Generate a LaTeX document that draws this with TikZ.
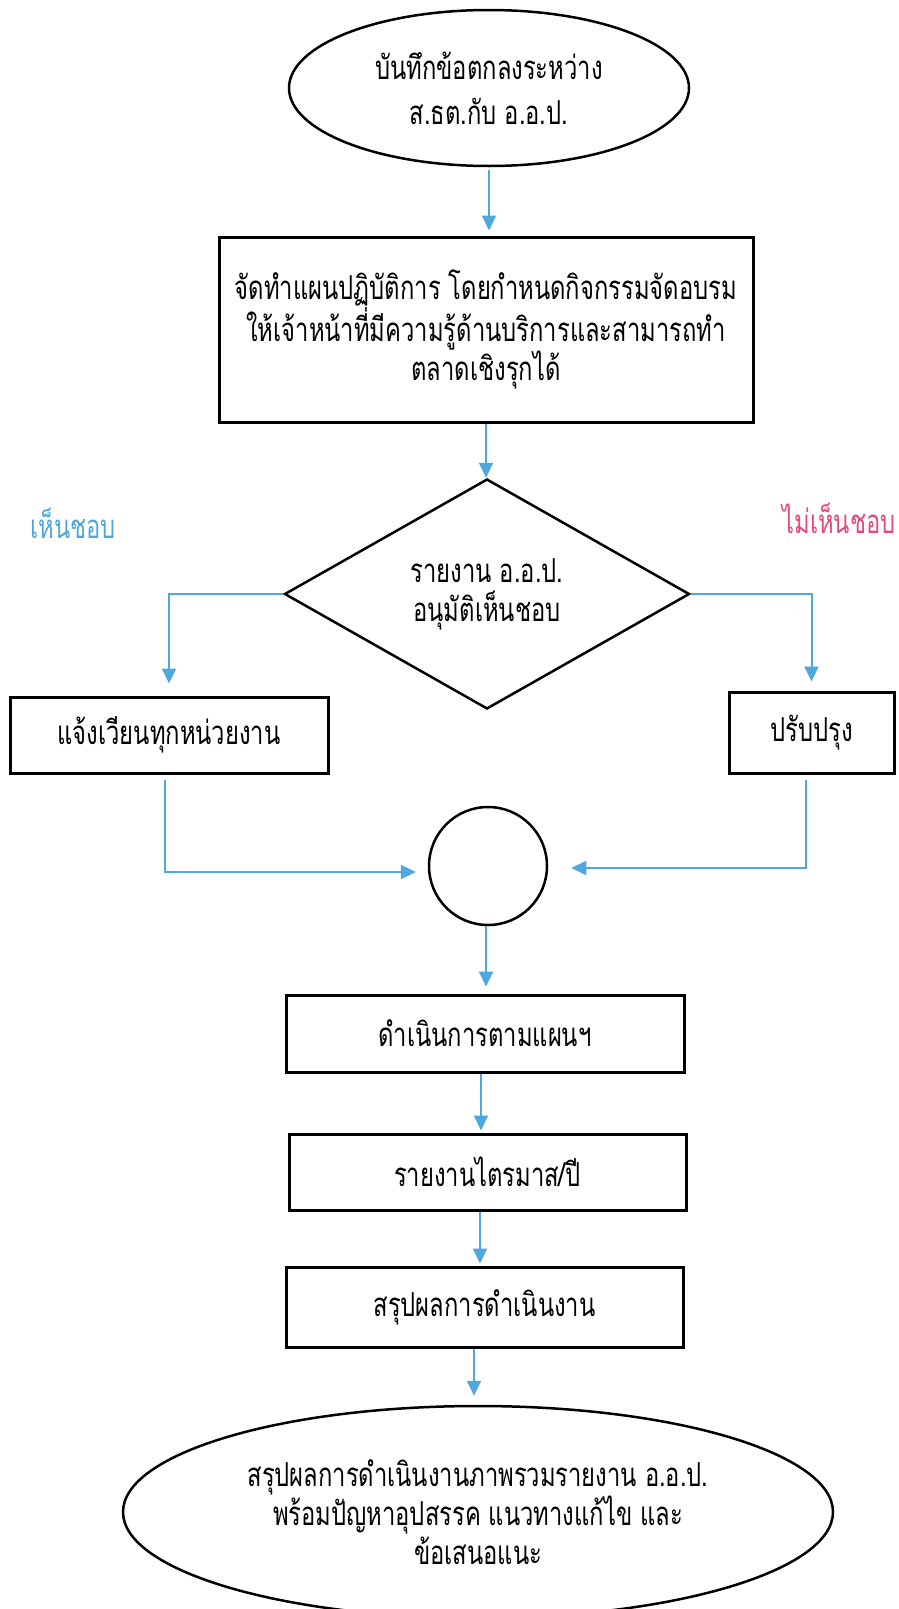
\documentclass[tikz,border=0pt]{standalone}
\usepackage{fontspec}
\newfontfamily\thaifont[Script=Thai,FakeStretch=0.72]{Loma}
\usetikzlibrary{shapes.geometric,arrows.meta}
\definecolor{flowblue}{RGB}{78,168,222}
\definecolor{flowpink}{RGB}{226,75,125}
\begin{document}
\begin{tikzpicture}[x=1pt,y=-1pt,
  every node/.style={font=\thaifont\fontsize{33}{39}\selectfont},
  box/.style={draw=black,line width=3pt,rectangle,inner sep=0pt,align=center},
  oval/.style={draw=black,line width=2.5pt,ellipse,inner sep=0pt,align=center},
  decbox/.style={draw=black,line width=2.5pt,diamond,aspect=1.76,inner sep=0pt,align=center},
  arr/.style={draw=flowblue,line width=2pt,-{Triangle[width=14pt,length=15pt]}}]
\useasboundingbox (0,0) rectangle (898,1609);
\fill[white] (0,0) rectangle (898,1609);

\node[oval,minimum width=400pt,minimum height=156pt,font=\thaifont\fontsize{33}{45}\selectfont] (start) at (489,88) {บันทึกข้อตกลงระหว่าง\\ส.ธต.กับ อ.อ.ป.};
\node[box,minimum width=534pt,minimum height=185pt] (plan) at (486,329.5) {จัดทำแผนปฏิบัติการ โดยกำหนดกิจกรรมจัดอบรม\\ให้เจ้าหน้าที่มีความรู้ด้านบริการและสามารถทำ\\ตลาดเชิงรุกได้};
\node[decbox,minimum width=405pt,minimum height=230pt] (dec) at (487,594) {รายงาน อ.อ.ป.\\อนุมัติเห็นชอบ};
\node[box,minimum width=318pt,minimum height=76pt] (notify) at (169,735) {แจ้งเวียนทุกหน่วยงาน};
\node[box,minimum width=165pt,minimum height=81pt] (revise) at (811.5,732.5) {ปรับปรุง};
\node[circle,draw=black,line width=2.5pt,minimum size=118pt,inner sep=0pt] (join) at (488,866) {};
\node[box,minimum width=398pt,minimum height=77pt] (act) at (485,1033.5) {ดำเนินการตามแผนฯ};
\node[box,minimum width=397pt,minimum height=76pt] (rep) at (487.5,1172) {รายงานไตรมาส/ปี};
\node[box,minimum width=397pt,minimum height=80pt] (sum) at (484.5,1307) {สรุปผลการดำเนินงาน};
\node[oval,minimum width=710pt,minimum height=212pt] (end) at (478,1512) {สรุปผลการดำเนินงานภาพรวมรายงาน อ.อ.ป.\\พร้อมปัญหาอุปสรรค แนวทางแก้ไข และ\\ข้อเสนอแนะ};
\node[text=flowblue] (yes) at (73,523) {เห็นชอบ};
\node[text=flowpink] (no) at (839,518) {ไม่เห็นชอบ};

\coordinate (pa) at (start.south);
\draw[arr,shorten <=3pt,shorten >=5pt] (pa) -- (pa |- plan.north);
\coordinate (pb) at (plan.south);
\draw[arr] (pb) -- (pb |- dec.north);
\draw[arr,shorten >=12pt] (dec.west) -| (notify.north);
\draw[arr,shorten >=9pt] (dec.east) -| (revise.north);
\coordinate (pc) at ([xshift=-4pt]notify.south);
\coordinate (pcj) at ([yshift=-6pt]join.west);
\draw[arr,shorten <=5pt,shorten >=12pt] (pc) |- (pcj);
\coordinate (pd) at ([xshift=-5.5pt]revise.south);
\coordinate (pdj) at ([yshift=-2pt]join.east);
\draw[arr,shorten <=5pt,shorten >=23pt] (pd) |- (pdj);
\coordinate (pe) at ([xshift=-2pt]join.south);
\draw[arr,shorten >=7pt] (pe) -- (pe |- act.north);
\coordinate (pf) at ([xshift=-4pt]act.south);
\draw[arr,shorten >=2pt] (pf) -- (pf |- rep.north);
\coordinate (pg) at ([xshift=-7.5pt]rep.south);
\draw[arr,shorten >=2pt] (pg) -- (pg |- sum.north);
\coordinate (ph) at ([xshift=-10.5pt]sum.south);
\draw[arr,shorten >=9pt] (ph) -- (ph |- end.north);
\end{tikzpicture}
\end{document}
